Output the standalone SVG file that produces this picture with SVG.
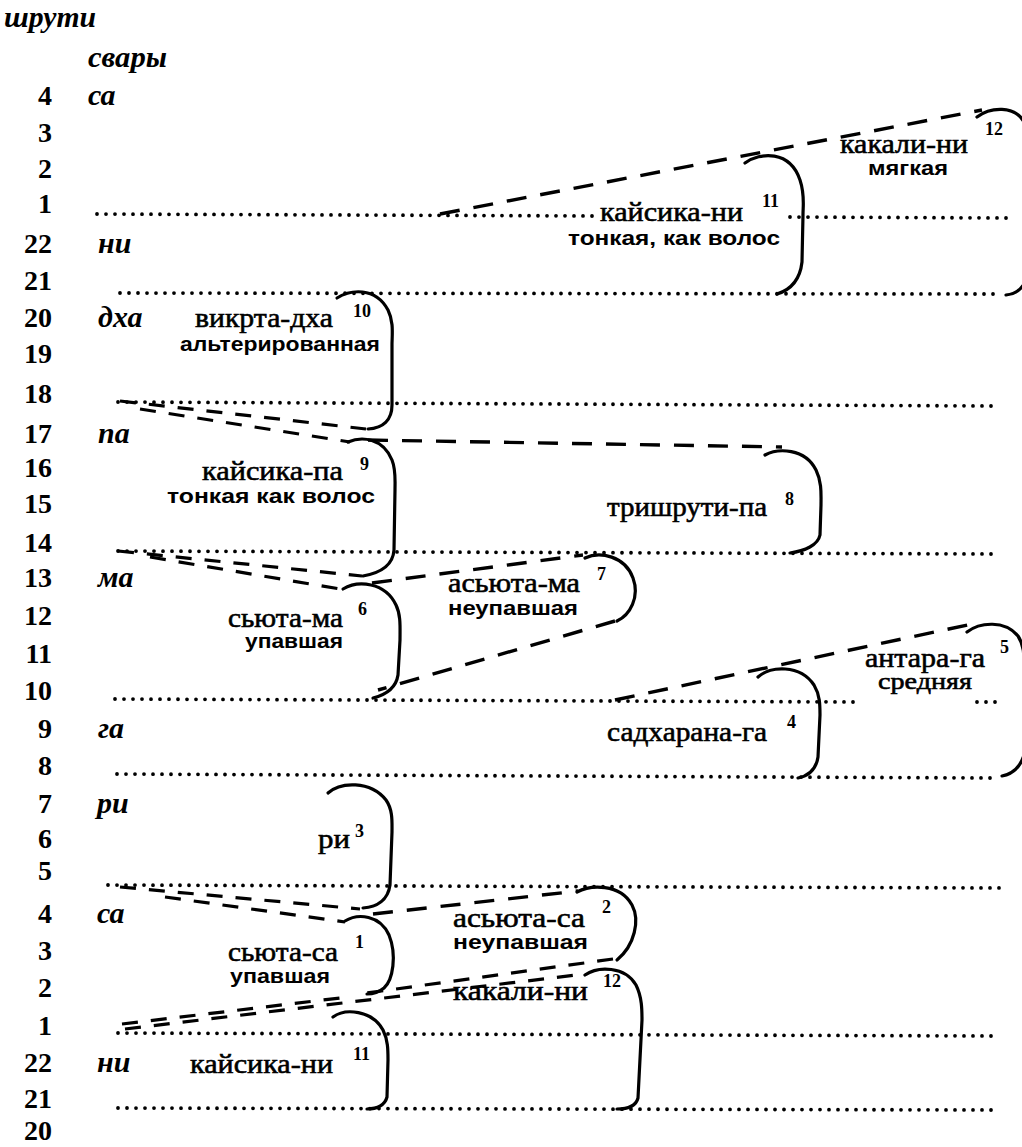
<svg xmlns="http://www.w3.org/2000/svg" width="1022" height="1147" viewBox="0 0 1022 1147">
<style>
.num{font-family:"Liberation Serif",serif;font-size:28px;font-weight:bold;text-anchor:end;fill:#000}
.sw{font-family:"Liberation Serif",serif;font-size:30px;font-style:italic;font-weight:bold;fill:#000}
.lb{font-family:"Liberation Serif",serif;font-size:28px;fill:#000;stroke:#000;stroke-width:0.6}
.sub{font-family:"Liberation Sans",sans-serif;font-size:21px;font-weight:bold;fill:#000}
.sup{font-family:"Liberation Serif",serif;font-size:18px;font-weight:bold;fill:#000}
.dot{stroke:#000;stroke-width:3.8;stroke-linecap:round;stroke-dasharray:0 9;fill:none}
.br{stroke:#000;stroke-width:3.2;fill:none;stroke-linecap:round}
.ds{stroke:#000;stroke-width:3.4;fill:none;stroke-dasharray:20 14}
.dd{stroke:#000;stroke-width:3.2;fill:none;stroke-dasharray:16 13}
</style>
<rect width="1022" height="1147" fill="#fff"/>
<g id="headers">
<text class="sw" x="4" y="27" textLength="92" lengthAdjust="spacingAndGlyphs">шрути</text>
<text class="sw" x="88" y="67" textLength="79" lengthAdjust="spacingAndGlyphs">свары</text>
</g>
<g id="shruti-numbers">
<text class="num" x="52" y="105">4</text>
<text class="num" x="52" y="142">3</text>
<text class="num" x="52" y="178">2</text>
<text class="num" x="52" y="213">1</text>
<text class="num" x="52" y="253">22</text>
<text class="num" x="52" y="290">21</text>
<text class="num" x="52" y="327">20</text>
<text class="num" x="52" y="363">19</text>
<text class="num" x="52" y="403">18</text>
<text class="num" x="52" y="443">17</text>
<text class="num" x="52" y="477">16</text>
<text class="num" x="52" y="513">15</text>
<text class="num" x="52" y="552">14</text>
<text class="num" x="52" y="587">13</text>
<text class="num" x="52" y="625">12</text>
<text class="num" x="52" y="663">11</text>
<text class="num" x="52" y="700">10</text>
<text class="num" x="52" y="738">9</text>
<text class="num" x="52" y="775">8</text>
<text class="num" x="52" y="813">7</text>
<text class="num" x="52" y="848">6</text>
<text class="num" x="52" y="880">5</text>
<text class="num" x="52" y="923">4</text>
<text class="num" x="52" y="960">3</text>
<text class="num" x="52" y="997">2</text>
<text class="num" x="52" y="1035">1</text>
<text class="num" x="52" y="1072">22</text>
<text class="num" x="52" y="1108">21</text>
<text class="num" x="52" y="1140">20</text>
</g>
<g id="swara-names">
<text class="sw" x="88" y="105">са</text>
<text class="sw" x="98" y="253">ни</text>
<text class="sw" x="98" y="327">дха</text>
<text class="sw" x="98" y="443">па</text>
<text class="sw" x="98" y="587">ма</text>
<text class="sw" x="98" y="738">га</text>
<text class="sw" x="97" y="813">ри</text>
<text class="sw" x="97" y="923">са</text>
<text class="sw" x="97" y="1072">ни</text>
</g>
<g id="grid">
<line class="dot" x1="97" y1="214" x2="598" y2="216"/>
<line class="dot" x1="790" y1="217" x2="1010" y2="218"/>
<line class="dot" x1="120" y1="293" x2="993" y2="294"/>
<line class="dot" x1="118" y1="402" x2="993" y2="406"/>
<line class="dot" x1="118" y1="551" x2="993" y2="554"/>
<line class="dot" x1="115" y1="699" x2="857" y2="702"/>
<line class="dot" x1="977" y1="702" x2="997" y2="702"/>
<line class="dot" x1="117" y1="774" x2="993" y2="778"/>
<line class="dot" x1="108" y1="885" x2="1007" y2="888"/>
<line class="dot" x1="118" y1="1033" x2="993" y2="1036"/>
<line class="dot" x1="118" y1="1108" x2="993" y2="1110"/>
</g>
<g id="connectors">
<line class="ds" x1="440" y1="214" x2="982" y2="110"/>
<line class="dd" x1="120" y1="401" x2="366" y2="429"/>
<line class="dd" x1="140" y1="409" x2="350" y2="442"/>
<line class="ds" x1="368" y1="440" x2="782" y2="447"/>
<line class="dd" x1="118" y1="551" x2="362" y2="576"/>
<line class="dd" x1="150" y1="557" x2="346" y2="590"/>
<line class="ds" x1="372" y1="583" x2="583" y2="555"/>
<line class="ds" x1="615" y1="621" x2="378" y2="690"/>
<line class="ds" x1="615" y1="700" x2="977" y2="623"/>
<line class="dd" x1="120" y1="887" x2="360" y2="909"/>
<line class="dd" x1="165" y1="897" x2="345" y2="922"/>
<line class="ds" x1="373" y1="914" x2="578" y2="891"/>
<line class="dd" x1="613" y1="959" x2="367" y2="993"/>
<line class="dd" x1="125" y1="1029" x2="585" y2="974"/>
<line class="dd" x1="122" y1="1024" x2="340" y2="998"/>
</g>
<g id="node-12-top">
<path class="br" d="M977,117 C990,107 1015,105 1024,122 L1026,280 C1022,290 1015,294 1006,295"/>
<text class="lb" x="840" y="153" textLength="128" lengthAdjust="spacingAndGlyphs">какали-ни</text>
<text class="sub" x="868" y="175" textLength="80" lengthAdjust="spacingAndGlyphs">мягкая</text>
<text class="sup" x="985" y="135">12</text>
</g>
<g id="node-11-top">
<path class="br" d="M745,163 C760,152 790,150 800,180 C805,195 803,205 803,215 L802,262 C800,280 790,290 777,294"/>
<text class="lb" x="600" y="221" textLength="143" lengthAdjust="spacingAndGlyphs">кайсика-ни</text>
<text class="sub" x="568" y="245" textLength="212" lengthAdjust="spacingAndGlyphs">тонкая, как волос</text>
<text class="sup" x="762" y="207">11</text>
</g>
<g id="node-10">
<path class="br" d="M337,298 C350,290 375,286 388,310 C394,322 392,335 392,345 L392,405 C392,420 383,428 368,429"/>
<text class="lb" x="195" y="327" textLength="138" lengthAdjust="spacingAndGlyphs">викрта-дха</text>
<text class="sub" x="180" y="351" textLength="200" lengthAdjust="spacingAndGlyphs">альтерированная</text>
<text class="sup" x="353" y="317">10</text>
</g>
<g id="node-9">
<path class="br" d="M348,442 C362,436 383,438 392,460 C396,470 395,480 395,490 L394,550 C393,565 380,573 363,576"/>
<text class="lb" x="202" y="480" textLength="141" lengthAdjust="spacingAndGlyphs">кайсика-па</text>
<text class="sub" x="167" y="503" textLength="208" lengthAdjust="spacingAndGlyphs">тонкая как волос</text>
<text class="sup" x="360" y="470">9</text>
</g>
<g id="node-8">
<path class="br" d="M765,455 C778,448 805,448 816,470 C822,482 821,495 821,505 L820,535 C818,545 805,551 790,553"/>
<text class="lb" x="607" y="516" textLength="160" lengthAdjust="spacingAndGlyphs">тришрути-па</text>
<text class="sup" x="785" y="505">8</text>
</g>
<g id="node-7">
<path class="br" d="M585,558 C600,551 625,556 633,578 C640,597 630,615 617,621"/>
<text class="lb" x="448" y="592" textLength="132" lengthAdjust="spacingAndGlyphs">асьюта-ма</text>
<text class="sub" x="448" y="615" textLength="130" lengthAdjust="spacingAndGlyphs">неупавшая</text>
<text class="sup" x="597" y="580">7</text>
</g>
<g id="node-6">
<path class="br" d="M343,589 C358,580 385,582 396,605 C401,615 400,628 400,640 L398,675 C396,688 385,695 373,698"/>
<text class="lb" x="228" y="627" textLength="115" lengthAdjust="spacingAndGlyphs">сьюта-ма</text>
<text class="sub" x="245" y="648" textLength="98" lengthAdjust="spacingAndGlyphs">упавшая</text>
<text class="sup" x="358" y="615">6</text>
</g>
<g id="node-5">
<path class="br" d="M967,632 C980,622 1005,620 1018,636 C1024,645 1024,655 1024,665 L1024,755 C1020,768 1012,774 1002,776"/>
<text class="lb" x="865" y="667" textLength="120" lengthAdjust="spacingAndGlyphs">антара-га</text>
<text class="lb" x="878" y="689" style="font-size:24px" textLength="94" lengthAdjust="spacingAndGlyphs">средняя</text>
<text class="sup" x="1000" y="653">5</text>
</g>
<g id="node-4">
<path class="br" d="M758,677 C770,666 800,664 814,685 C820,695 820,705 820,715 L818,757 C816,770 808,776 798,778"/>
<text class="lb" x="607" y="741" textLength="160" lengthAdjust="spacingAndGlyphs">садхарана-га</text>
<text class="sup" x="787" y="728">4</text>
</g>
<g id="node-3">
<path class="br" d="M328,793 C340,782 370,780 386,800 C393,810 392,822 392,832 L390,885 C388,900 377,907 363,908"/>
<text class="lb" x="318" y="848" textLength="32" lengthAdjust="spacingAndGlyphs">ри</text>
<text class="sup" x="355" y="837">3</text>
</g>
<g id="node-2">
<path class="br" d="M577,892 C590,885 620,883 632,905 C640,920 635,945 617,960"/>
<text class="lb" x="453" y="927" textLength="132" lengthAdjust="spacingAndGlyphs">асьюта-са</text>
<text class="sub" x="453" y="949" textLength="135" lengthAdjust="spacingAndGlyphs">неупавшая</text>
<text class="sup" x="602" y="913">2</text>
</g>
<g id="node-1">
<path class="br" d="M345,921 C358,913 380,915 389,935 C397,955 393,980 384,988 C378,993 372,994 367,994"/>
<text class="lb" x="228" y="961" textLength="110" lengthAdjust="spacingAndGlyphs">сьюта-са</text>
<text class="sub" x="230" y="983" textLength="100" lengthAdjust="spacingAndGlyphs">упавшая</text>
<text class="sup" x="355" y="948">1</text>
</g>
<g id="node-12-bottom">
<path class="br" d="M585,975 C598,966 625,966 636,985 C642,997 642,1010 642,1020 L638,1098 C636,1106 628,1109 617,1109"/>
<text class="lb" x="453" y="1000" textLength="135" lengthAdjust="spacingAndGlyphs">какали-ни</text>
<text class="sup" x="603" y="987">12</text>
</g>
<g id="node-11-bottom">
<path class="br" d="M333,1017 C345,1008 372,1010 383,1030 C388,1040 388,1050 388,1060 L387,1097 C385,1105 377,1109 367,1109"/>
<text class="lb" x="190" y="1073" textLength="143" lengthAdjust="spacingAndGlyphs">кайсика-ни</text>
<text class="sup" x="353" y="1060">11</text>
</g>
</svg>
